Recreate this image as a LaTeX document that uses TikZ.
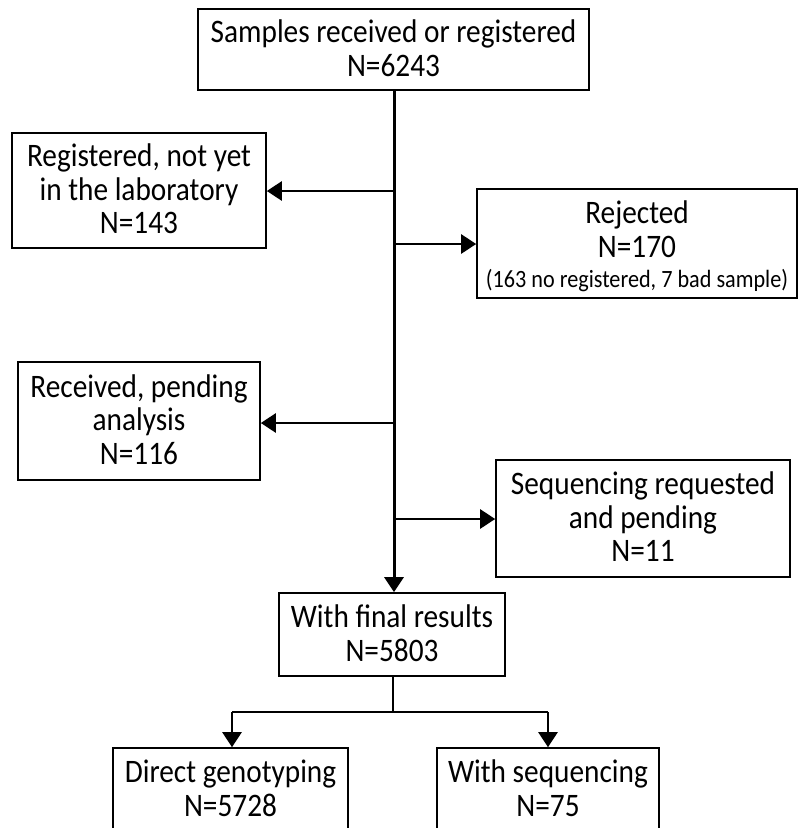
\documentclass[tikz,border=0pt]{standalone}
\usepackage{fontspec}
\usepackage{graphicx}
\setmainfont{Carlito}
\usetikzlibrary{arrows.meta}
\newsavebox{\txtbox}
\newcommand{\boxtext}[2][2.7pt]{\scalebox{1}[1.12]{\fontsize{29.3}{30}\selectfont
  \sbox{\txtbox}{\begin{tabular}{@{}c@{}}#2\end{tabular}}%
  \raisebox{-#1}[\ht\txtbox][\dp\txtbox]{\usebox{\txtbox}}}}
\begin{document}
\begin{tikzpicture}[x=1pt,y=-1pt,
  box/.style={draw=black,line width=1.6pt,fill=white,inner sep=0pt,align=center},
  trunk/.style={line width=3pt,draw=black},
  branch/.style={line width=2.5pt,draw=black},
  tip/.style={-{Triangle[length=15pt,width=19pt]}}]
\useasboundingbox (0,0) rectangle (798,828);
\clip (0,0) rectangle (798,828);
\fill[white] (0,0) rectangle (798,828);
% boxes
\node[box,minimum width=391pt,minimum height=81pt] (top) at (393.5,49.5)
  {\boxtext{Samples received or registered\\N=6243}};
\node[box,minimum width=254pt,minimum height=115pt] (reg) at (139,190.5)
  {\boxtext{Registered, not yet\\in the laboratory\\N=143}};
\node[box,minimum width=320pt,minimum height=109pt] (rej) at (637,243.5)
  {\boxtext[5pt]{Rejected\\N=170\\[-3pt]{\fontsize{22.2}{20}\selectfont (163 no registered, 7 bad sample)}}};
\node[box,minimum width=242pt,minimum height=118pt] (recv) at (139,421)
  {\boxtext{Received, pending\\analysis\\N=116}};
\node[box,minimum width=294pt,minimum height=117pt] (seq) at (643,518.5)
  {\boxtext{Sequencing requested\\and pending\\N=11}};
\node[box,minimum width=226pt,minimum height=83pt] (final) at (392,634.5)
  {\boxtext{With final results\\N=5803}};
\node[box,minimum width=235pt,minimum height=83pt] (direct) at (230.5,789.5)
  {\boxtext{Direct genotyping\\N=5728}};
\node[box,minimum width=222pt,minimum height=83pt] (wseq) at (548,789.5)
  {\boxtext{With sequencing\\N=75}};
% coordinates on the trunk
\coordinate (t0) at (394,90);
\coordinate (t1) at (394,593);
\coordinate (jreg) at (394,191);
\coordinate (jrej) at (394,244);
\coordinate (jrecv) at (394,423);
\coordinate (jseq) at (394,519);
\coordinate (f0) at (393,676);
\coordinate (fj) at (393,712);
\coordinate (bl) at (232,712);
\coordinate (br) at (548,712);
% connectors
\draw[trunk,tip] (top.south -| t0) -- (final.north -| t1);
\draw[branch,tip] (jreg) -- (reg.east |- jreg);
\draw[branch,tip] (jrej) -- (rej.west |- jrej);
\draw[branch,tip] (jrecv) -- (recv.east |- jrecv);
\draw[branch,tip] (jseq) -- (seq.west |- jseq);
\draw[branch] (final.south -| f0) -- (fj);
\draw[branch] (bl) -- (br);
\draw[branch,tip] (bl) -- (direct.north -| bl);
\draw[branch,tip] (br) -- (wseq.north -| br);
\end{tikzpicture}
\end{document}
